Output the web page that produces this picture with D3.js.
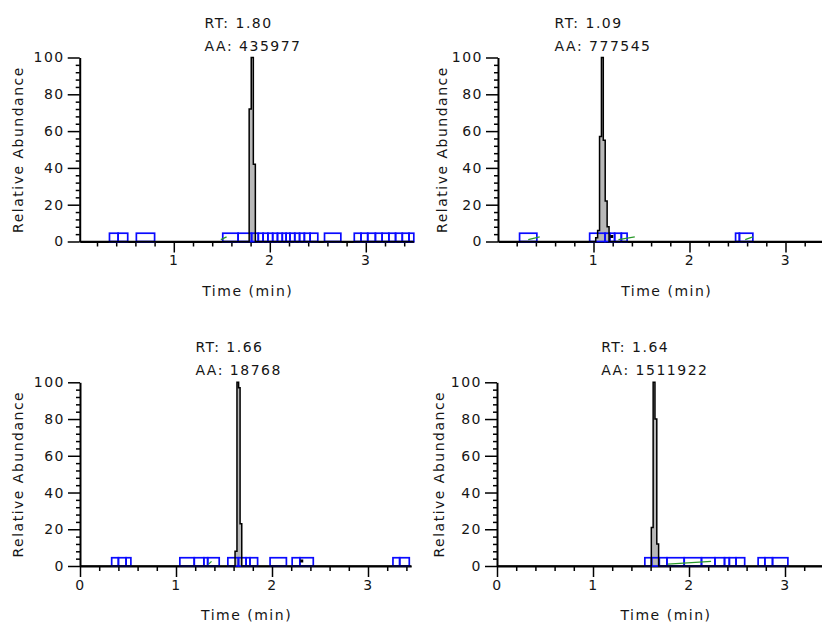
<!DOCTYPE html>
<html>
<head>
<meta charset="utf-8">
<script src="https://cdn.jsdelivr.net/npm/d3@7"></script>
<style>
  body { margin: 0; background: #fff; }
  svg text { font-family: "DejaVu Sans", "Liberation Sans", Arial, sans-serif; font-size: 14px; letter-spacing: 1.5px; fill: #151515; }
</style>
</head>
<body>
<svg width="822" height="624"></svg>
<script>
// ---- data ----
const xMajorTicks = [0, 1, 2, 3];
const yMajorTicks = [0, 20, 40, 60, 80, 100];

const rtLabels = ["RT: 1.80", "RT: 1.09", "RT: 1.66", "RT: 1.64"];
const aaLabels = ["AA: 435977", "AA: 777545", "AA: 18768", "AA: 1511922"];

// peak traces: time (min) and relative abundance (%)
const tlPeakTime = [1.775, 1.795, 1.818, 1.839, 1.86];
const tlPeakVal  = [0, 72, 100, 42, 0];
const trPeakTime = [1.013, 1.033, 1.053, 1.073, 1.092, 1.112, 1.132, 1.152, 1.172];
const trPeakVal  = [0, 2, 6, 57, 100, 55, 22, 8, 0];
const blPeakTime = [1.605, 1.625, 1.645, 1.66, 1.675, 1.695];
const blPeakVal  = [0, 8, 100, 97, 23, 0];
const brPeakTime = [1.598, 1.617, 1.636, 1.655, 1.674, 1.693];
const brPeakVal  = [0, 21, 100, 80, 12, 0];

// blue baseline boxes [start, end] in min
const tlBoxes = [[0.33, 0.42], [0.42, 0.52], [0.61, 0.80], [1.51, 1.67], [1.67, 1.81], [1.81, 1.88],
  [1.88, 1.93], [1.93, 1.98], [1.98, 2.03], [2.03, 2.08], [2.08, 2.13], [2.13, 2.17], [2.17, 2.21],
  [2.21, 2.26], [2.26, 2.31], [2.31, 2.36], [2.36, 2.42], [2.42, 2.50], [2.57, 2.74], [2.88, 2.95],
  [2.95, 3.02], [3.02, 3.10], [3.10, 3.17], [3.17, 3.24], [3.24, 3.31], [3.31, 3.38], [3.38, 3.45], [3.45, 3.50]];
const trBoxes = [[0.23, 0.41], [0.96, 1.12], [1.12, 1.17], [1.17, 1.22], [1.22, 1.29], [1.29, 1.35],
  [2.48, 2.52], [2.52, 2.66]];
const blBoxes = [[0.33, 0.40], [0.40, 0.48], [0.48, 0.53], [1.04, 1.19], [1.19, 1.29], [1.29, 1.33],
  [1.33, 1.45], [1.54, 1.65], [1.65, 1.73], [1.73, 1.77], [1.77, 1.85], [1.98, 2.15], [2.21, 2.29],
  [2.29, 2.43], [3.26, 3.33], [3.33, 3.43]];
const brBoxes = [[1.54, 1.61], [1.61, 1.69], [1.69, 1.77], [1.77, 1.95], [1.95, 2.13], [2.13, 2.27],
  [2.27, 2.37], [2.37, 2.42], [2.42, 2.49], [2.49, 2.58], [2.72, 2.79], [2.79, 2.87], [2.87, 3.03]];

// short green baseline segments and black dots
const tlGreen = [[1.49, 1.55]];
const trGreen = [[0.32, 0.44], [1.26, 1.43], [2.58, 2.66]];
const blGreen = [[1.34, 1.37]];
const brGreen = [[1.78, 2.23]];
const trDots = [1.19];
const blDots = [2.31];

// ---- layout ----
const pxPerMin = 96;
const panels = [
  { x0: 77.8, xStart: 0.02, xEnd: 3.5,  top: 57.5,  bottom: 241.5, labelX: 18,
    pt: tlPeakTime, pv: tlPeakVal, boxes: tlBoxes, green: tlGreen, dots: [] },
  { x0: 497.5, xStart: 0.005, xEnd: 3.5, top: 57.5, bottom: 241.5, labelX: 441.5,
    pt: trPeakTime, pv: trPeakVal, boxes: trBoxes, green: trGreen, dots: trDots },
  { x0: 80, xStart: 0, xEnd: 3.45, top: 382.3, bottom: 566, labelX: 18,
    pt: blPeakTime, pv: blPeakVal, boxes: blBoxes, green: blGreen, dots: blDots },
  { x0: 497, xStart: 0, xEnd: 3.5, top: 382.3, bottom: 566, labelX: 438.5,
    pt: brPeakTime, pv: brPeakVal, boxes: brBoxes, green: brGreen, dots: [] }
];

const svg = d3.select("svg");

panels.forEach((p, i) => {
  const x = d3.scaleLinear()
    .domain([p.xStart, p.xEnd])
    .range([p.x0 + p.xStart * pxPerMin, p.x0 + p.xEnd * pxPerMin]);
  const y = d3.scaleLinear().domain([0, 100]).range([p.bottom, p.top]);
  const g = svg.append("g");

  // minor ticks: every 0.2 min / every 4 %
  const xMinor = d3.range(0, 3.51, 0.2).filter(t => Math.abs(t - Math.round(t)) > 0.01 && t >= p.xStart && t <= p.xEnd);
  const yMinor = d3.range(0, 101, 4).filter(v => v % 20 !== 0);

  g.append("g").attr("transform", `translate(0,${y(0)})`)
    .call(d3.axisBottom(x).tickValues(xMajorTicks.filter(t => t >= p.xStart)).tickSize(11).tickSizeOuter(0).tickPadding(3).tickFormat(d3.format("d")));
  g.append("g").attr("transform", `translate(0,${y(0)})`)
    .call(d3.axisBottom(x).tickValues(xMinor).tickSize(5).tickSizeOuter(0).tickFormat(""))
    .select(".domain").remove();

  g.append("g").attr("transform", `translate(${x(p.xStart)},0)`)
    .call(d3.axisLeft(y).tickValues(yMajorTicks).tickSize(12).tickSizeOuter(0).tickPadding(3));
  g.append("g").attr("transform", `translate(${x(p.xStart)},0)`)
    .call(d3.axisLeft(y).tickValues(yMinor).tickSize(4).tickSizeOuter(0).tickFormat(""))
    .select(".domain").remove();

  g.selectAll(".domain").attr("stroke", "#000").attr("stroke-width", 2);
  g.selectAll(".tick line").attr("stroke", "#000").attr("stroke-width", 1.5);
  g.selectAll(".tick text").attr("font-size", null).attr("font-family", null).attr("fill", "#151515");

  // peak trace with grey area, drawn as steps like the instrument trace
  const pts = p.pt.map((t, k) => [t, p.pv[k]]);
  g.append("path").datum(pts)
    .attr("d", d3.area().curve(d3.curveStep).x(d => x(d[0])).y0(y(0)).y1(d => y(d[1])))
    .attr("fill", "#b8b8b8");

  // blue baseline boxes
  g.selectAll("rect.box").data(p.boxes).enter().append("rect")
    .attr("class", "box")
    .attr("x", d => x(d[0]))
    .attr("y", y(4.5))
    .attr("width", d => x(d[1]) - x(d[0]))
    .attr("height", y(0) - y(4.5))
    .attr("fill", "none")
    .attr("stroke", "#0a0aff")
    .attr("stroke-width", 1.7);

  g.selectAll("line.green").data(p.green).enter().append("line")
    .attr("x1", d => x(d[0])).attr("x2", d => x(d[1]))
    .attr("y1", y(1)).attr("y2", y(2.5))
    .attr("stroke", "#2a9a2a").attr("stroke-width", 1.2);

  g.selectAll("rect.dot").data(p.dots).enter().append("rect")
    .attr("x", d => x(d) - 1.5).attr("y", y(3) - 1)
    .attr("width", 3).attr("height", 3).attr("fill", "#000");

  // chromatogram line (baseline across the whole range)
  const trace = [[p.xStart, 0]].concat(pts, [[p.xEnd, 0]]);
  g.append("path").datum(trace)
    .attr("d", d3.line().curve(d3.curveStep).x(d => x(d[0])).y(d => y(d[1])))
    .attr("fill", "none").attr("stroke", "#000").attr("stroke-width", 1.5);

  // RT / AA labels, block centred on the apex
  const apex = pts.reduce((a, b) => (b[1] > a[1] ? b : a));
  const rt = g.append("text").attr("y", p.top - 30).text(rtLabels[i]);
  const aa = g.append("text").attr("y", p.top - 7).text(aaLabels[i]);
  const w = Math.max(rt.node().getComputedTextLength(), aa.node().getComputedTextLength()) - 1.5;
  rt.attr("x", x(apex[0]) - w / 2);
  aa.attr("x", x(apex[0]) - w / 2);

  // axis titles
  g.append("text")
    .attr("x", (x(p.xStart) + x(p.xEnd)) / 2 + 1)
    .attr("y", p.bottom + 54)
    .attr("text-anchor", "middle")
    .text("Time (min)");
  g.append("text")
    .attr("transform", `translate(${p.labelX + 5},${(p.top + p.bottom) / 2}) rotate(-90)`)
    .attr("text-anchor", "middle")
    .text("Relative Abundance");
});
</script>
</body>
</html>
